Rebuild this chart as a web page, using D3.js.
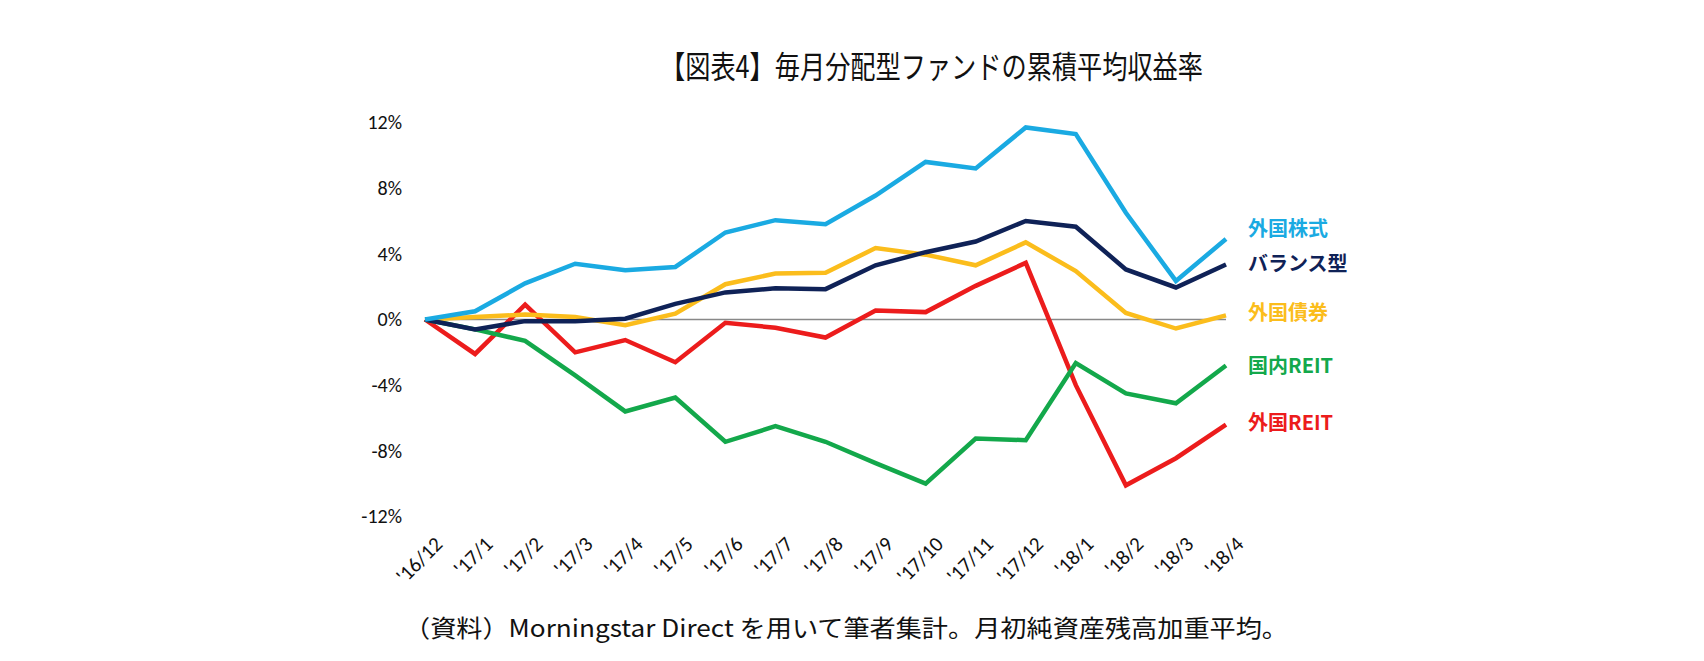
<!DOCTYPE html>
<html>
<head>
<meta charset="utf-8">
<script src="https://cdn.jsdelivr.net/npm/d3@7"></script>
<style>
  html, body { margin: 0; padding: 0; background: #fff; }
  svg { display: block; }
</style>
</head>
<body>
<div id="chart"></div>
<script>
// categories (months)
var months = ["'16/12", "'17/1", "'17/2", "'17/3", "'17/4", "'17/5", "'17/6", "'17/7", "'17/8",
              "'17/9", "'17/10", "'17/11", "'17/12", "'18/1", "'18/2", "'18/3", "'18/4"];

// cumulative average returns (%)
var foreignStock = [0, 0.5, 2.2, 3.4, 3.0, 3.2, 5.3, 6.05, 5.8, 7.55, 9.6, 9.2, 11.7, 11.3, 6.5, 2.35, 4.9];
var balanced     = [0, -0.6, -0.1, -0.1, 0.05, 0.95, 1.65, 1.9, 1.85, 3.3, 4.1, 4.75, 6.0, 5.65, 3.05, 1.95, 3.35];
var foreignBond  = [0, 0.15, 0.3, 0.15, -0.35, 0.35, 2.15, 2.8, 2.85, 4.35, 3.95, 3.3, 4.7, 2.95, 0.4, -0.55, 0.25];
var domesticReit = [0, -0.6, -1.3, -3.4, -5.6, -4.75, -7.45, -6.5, -7.45, -8.75, -10.0, -7.25, -7.35, -2.65, -4.5, -5.1, -2.8];
var foreignReit  = [0, -2.1, 0.9, -2.0, -1.25, -2.6, -0.2, -0.5, -1.1, 0.55, 0.45, 2.05, 3.45, -4.0, -10.1, -8.45, -6.4];

var yTicks = [-12, -8, -4, 0, 4, 8, 12];

var seriesNames = ["外国REIT", "国内REIT", "外国債券", "バランス型", "外国株式"];
var seriesData  = [foreignReit, domesticReit, foreignBond, balanced, foreignStock];
var seriesColor = ["#ec1c1c", "#13a84b", "#fbbd1c", "#0f2257", "#1aaae2"];
// legend label vertical centres (px)
var labelY      = [423, 366, 313, 264, 229];

var W = 1704, H = 661;

var svg = d3.select("#chart").append("svg")
    .attr("width", W)
    .attr("height", H);

svg.append("rect").attr("width", W).attr("height", H).attr("fill", "#fff");

// scales
var x = d3.scalePoint()
    .domain(months)
    .range([425, 1226]);

var y = d3.scaleLinear()
    .domain([-12, 12])
    .range([516.5, 122.5]);

// title
svg.append("text")
    .attr("x", 660)
    .attr("y", 78)
    .attr("textLength", 543)
    .attr("lengthAdjust", "spacingAndGlyphs")
    .style("font-family", "'Noto Sans CJK JP'")
    .style("font-size", "31px")
    .style("font-weight", 400)
    .attr("fill", "#111")
    .text("【図表4】毎月分配型ファンドの累積平均収益率");

// y axis (labels only)
var yAxis = d3.axisLeft(y)
    .tickValues(yTicks)
    .tickSize(0)
    .tickPadding(0)
    .tickFormat(function(d) { return d + "%"; });

var gy = svg.append("g")
    .attr("transform", "translate(402,0)")
    .call(yAxis);
gy.select(".domain").remove();
gy.selectAll("text")
    .style("font-family", "Carlito, Calibri, 'Open Sans', sans-serif")
    .style("font-size", "20px")
    .attr("fill", "#111");

// x axis (labels only)
var xAxis = d3.axisBottom(x).tickSize(0).tickPadding(0);
var gx = svg.append("g")
    .attr("transform", "translate(0,535)")
    .call(xAxis);
gx.select(".domain").remove();
gx.selectAll("text")
    .style("font-family", "Carlito, Calibri, 'Open Sans', sans-serif")
    .style("font-size", "21px")
    .attr("fill", "#111")
    .attr("text-anchor", "end")
    .attr("dy", "0.7em")
    .attr("transform", "translate(8,0) rotate(-45)");

// zero line
svg.append("line")
    .attr("x1", x(months[0]))
    .attr("x2", x(months[months.length - 1]))
    .attr("y1", y(0))
    .attr("y2", y(0))
    .attr("stroke", "#888")
    .attr("stroke-width", 1.5);

// lines
var line = d3.line()
    .x(function(d, i) { return x(months[i]); })
    .y(function(d) { return y(d); });

seriesData.forEach(function(s, k) {
    svg.append("path")
        .datum(s)
        .attr("d", line)
        .attr("fill", "none")
        .attr("stroke", seriesColor[k])
        .attr("stroke-width", 4.5)
        .attr("stroke-linejoin", "miter");
});

// end labels
seriesNames.forEach(function(name, k) {
    svg.append("text")
        .attr("x", 1248)
        .attr("y", labelY[k])
        .attr("dy", "0.36em")
        .style("font-family", "'Noto Sans CJK JP'")
        .style("font-size", "20px")
        .style("font-weight", 700)
        .attr("fill", seriesColor[k])
        .text(name);
});

// source note
svg.append("text")
    .attr("x", 404)
    .attr("y", 637)
    .attr("textLength", 884)
    .attr("lengthAdjust", "spacingAndGlyphs")
    .style("font-family", "'Noto Sans CJK JP'")
    .style("font-size", "24px")
    .attr("fill", "#111")
    .text("（資料）Morningstar Direct を用いて筆者集計。月初純資産残高加重平均。");
</script>
</body>
</html>
